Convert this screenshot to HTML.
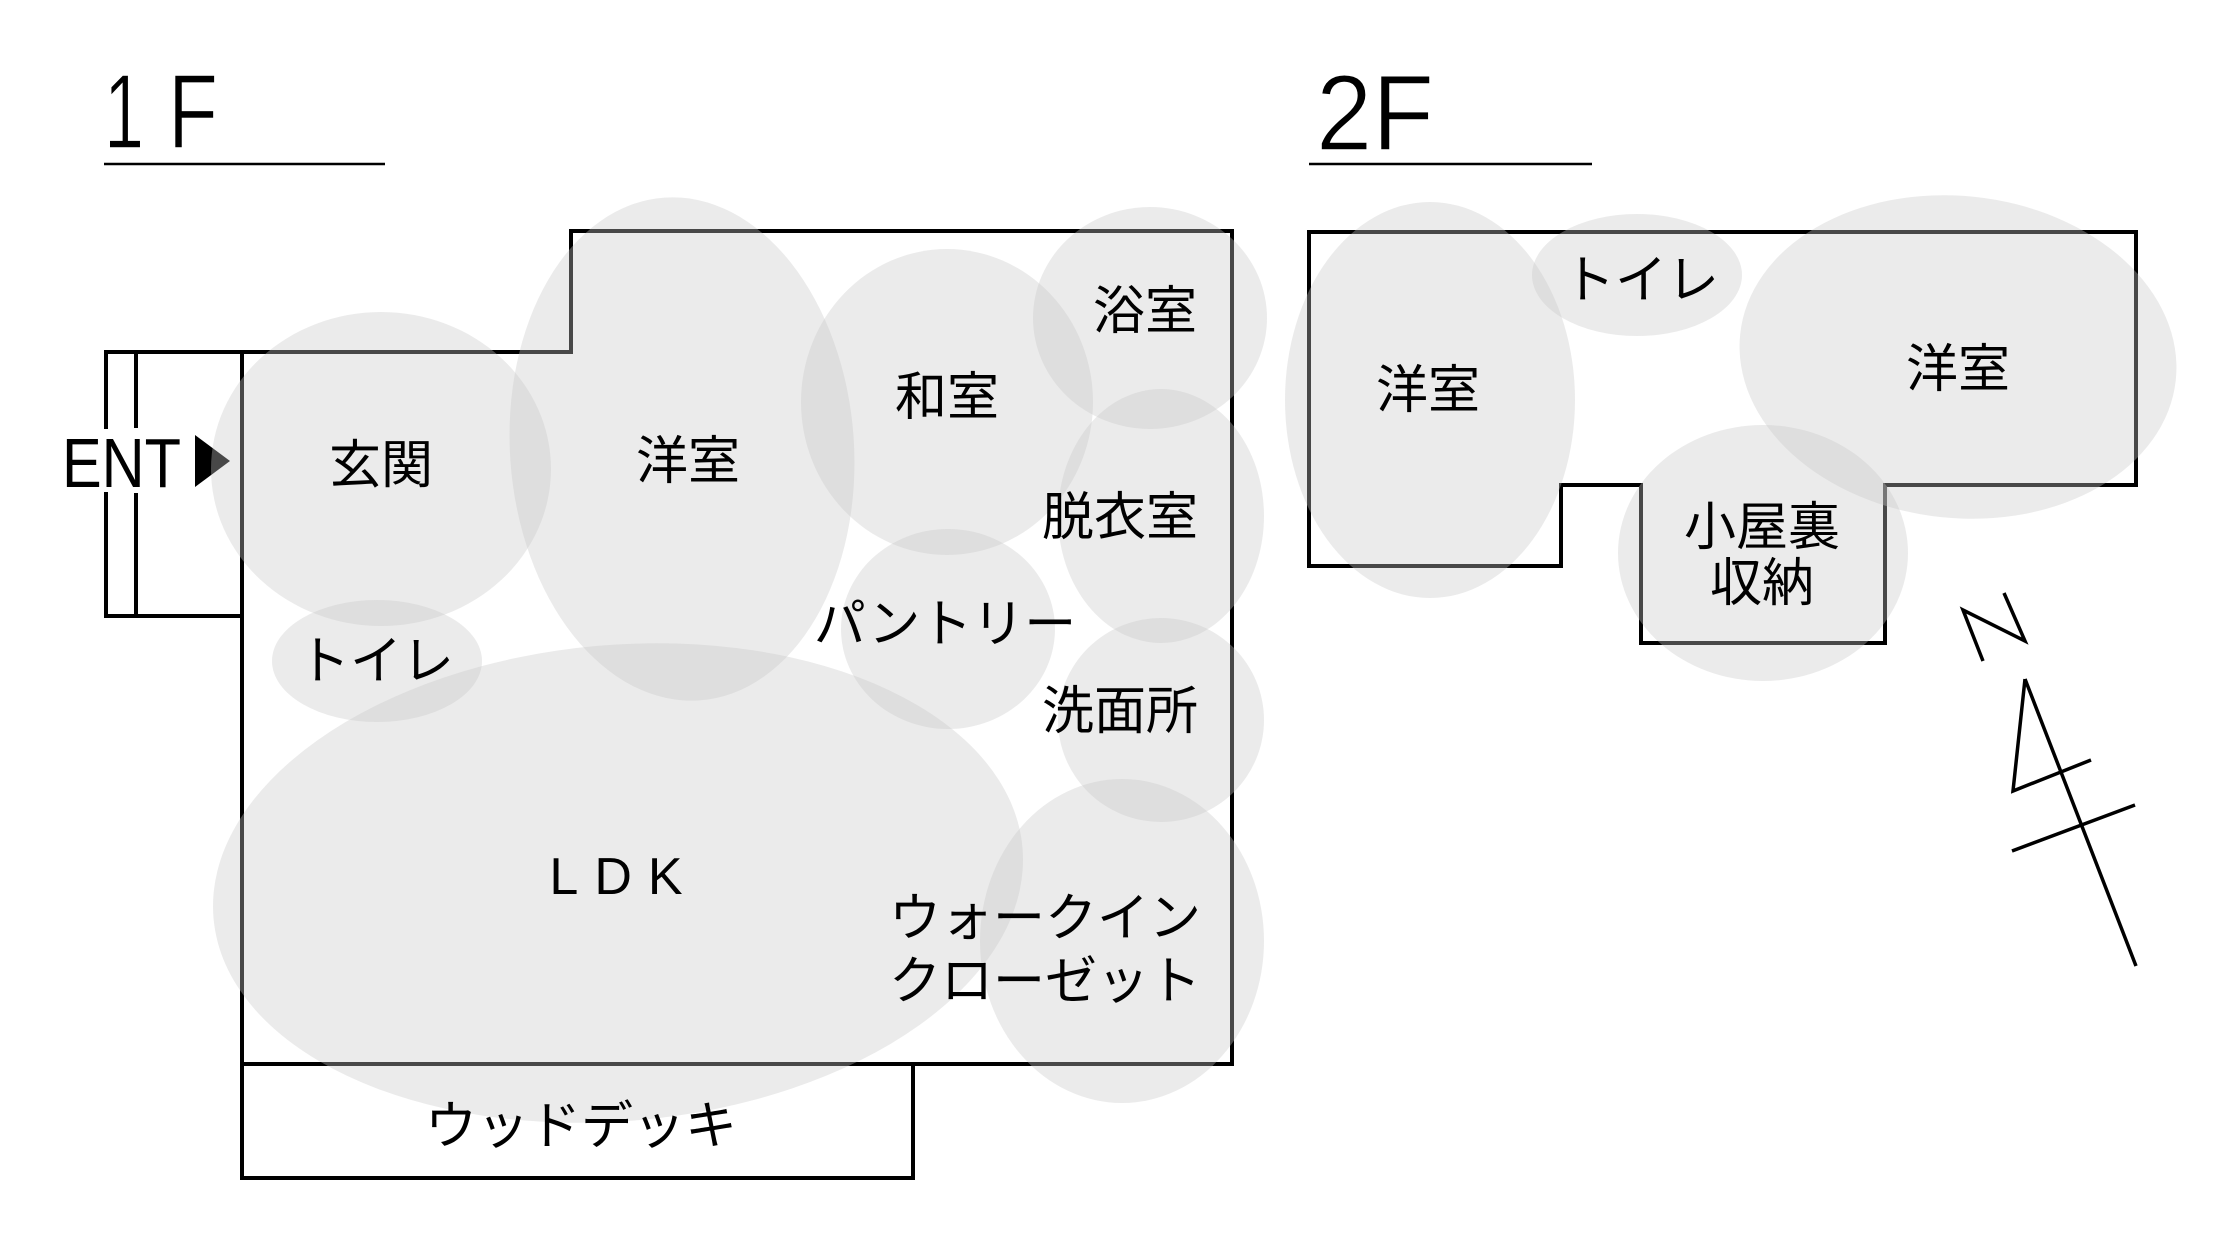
<!DOCTYPE html>
<html><head><meta charset="utf-8"><style>
html,body{margin:0;padding:0;background:#fff;}
svg{display:block;}
.j{font-family:"Liberation Sans","Noto Sans CJK JP",sans-serif;font-size:52px;fill:#000;}
.t{font-family:"Liberation Sans",sans-serif;fill:#000;stroke:#fff;stroke-width:1.5;}
</style></head><body>
<svg width="2230" height="1234" viewBox="0 0 2230 1234" xmlns="http://www.w3.org/2000/svg">
<text class="t" x="104" y="148" font-size="106" textLength="40" lengthAdjust="spacingAndGlyphs">1</text>
<text class="t" x="168" y="148" font-size="106" textLength="50" lengthAdjust="spacingAndGlyphs">F</text>
<line x1="104" y1="164" x2="385" y2="164" stroke="#000" stroke-width="2.5"/>
<text class="t" x="1316" y="150" font-size="108" textLength="118" lengthAdjust="spacingAndGlyphs">2F</text>
<line x1="1309" y1="164" x2="1592" y2="164" stroke="#000" stroke-width="2.5"/>

<g fill="none" stroke="#000" stroke-width="4">
<polygon points="242,352 571,352 571,231 1232,231 1232,1064 242,1064"/>
<polyline points="242,352 106,352 106,616 242,616"/>
<line x1="136" y1="354" x2="136" y2="428"/>
<line x1="136" y1="493" x2="136" y2="616"/>
<polyline points="242,1064 242,1178 913,1178 913,1064"/>
<polygon points="1309,232 2136,232 2136,485 1885,485 1885,643 1641,643 1641,485 1561,485 1561,566 1309,566"/>
</g>
<rect x="100" y="429" width="40" height="63" fill="#fff"/>
<text x="62" y="487" font-family="Liberation Sans, sans-serif" font-size="70" textLength="119" lengthAdjust="spacingAndGlyphs">ENT</text>
<polygon points="195,435 230,461 195,487" fill="#000"/>

<g fill="none" stroke="#000" stroke-width="3.5">
<polyline points="1983,661 1963,610 2025,641 2004,593"/>
<line x1="2025" y1="679" x2="2136" y2="966"/>
<polyline points="2025,679 2013,791 2091,760"/>
<line x1="2012" y1="851" x2="2135" y2="805"/>
</g>

<g fill="rgba(200,200,200,0.36)">
<ellipse cx="381" cy="469" rx="170" ry="157"/>
<ellipse cx="682" cy="449" rx="172" ry="252" transform="rotate(-4 682 449)"/>
<ellipse cx="947" cy="402" rx="146" ry="153"/>
<ellipse cx="1150" cy="318" rx="117" ry="111"/>
<ellipse cx="1161" cy="516" rx="103" ry="127"/>
<ellipse cx="948" cy="629" rx="107" ry="100"/>
<ellipse cx="1161" cy="720" rx="103" ry="102"/>
<ellipse cx="1122" cy="941" rx="142" ry="162"/>
<ellipse cx="377" cy="661" rx="105" ry="61"/>
<ellipse cx="618" cy="883" rx="406" ry="238" transform="rotate(-5 618 883)"/>
<ellipse cx="1430" cy="400" rx="145" ry="198"/>
<ellipse cx="1637" cy="275" rx="105" ry="61"/>
<ellipse cx="1958" cy="357" rx="219" ry="161" transform="rotate(6 1958 357)"/>
<ellipse cx="1763" cy="553" rx="145" ry="128"/>
</g>

<g class="j" text-anchor="middle" dominant-baseline="central">
<text class="j" x="381" y="466">玄関</text>
<text class="j" x="688" y="462">洋室</text>
<text class="j" x="947" y="398">和室</text>
<text class="j" x="1145" y="312">浴室</text>
<text class="j" x="1120" y="518">脱衣室</text>
<text class="j" x="945" y="625">パントリー</text>
<text class="j" x="1120" y="712">洗面所</text>
<text class="j" x="376" y="662">トイレ</text>
<text class="j" x="624" y="877" letter-spacing="16">LDK</text>
<text class="j" x="1045" y="919" font-size="48">ウォークイン</text>
<text class="j" x="1045" y="982" font-size="48">クローゼット</text>
<text class="j" x="581" y="1127">ウッドデッキ</text>
<text class="j" x="1428" y="391">洋室</text>
<text class="j" x="1641" y="281">トイレ</text>
<text class="j" x="1958" y="370">洋室</text>
<text class="j" x="1762" y="528">小屋裏</text>
<text class="j" x="1762" y="584">収納</text>
</g>
</svg>
</body></html>
